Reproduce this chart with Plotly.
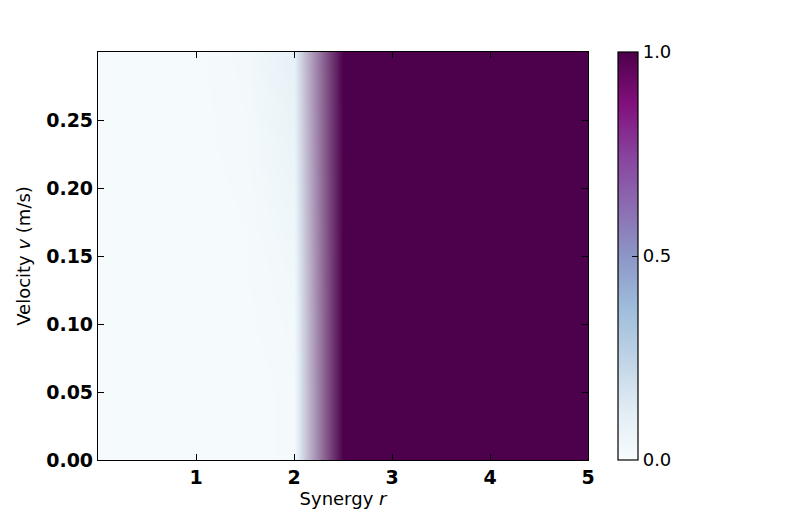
import plotly.graph_objects as go

# Grid of synergy values (x) and velocities (y)
synergy = [0.0, 0.5, 1.0, 1.5, 1.75, 2.0, 2.5, 3.0, 4.0, 5.0]
velocity = [0.0, 0.05, 0.10, 0.15, 0.20, 0.25, 0.30]

# Fraction (0..1) for each velocity row, one value per synergy column
cooperation = [
    [0.008, 0.008, 0.008, 0.008, 0.01, 0.015, 1.0, 1.0, 1.0, 1.0],  # v=0.00
    [0.008, 0.008, 0.008, 0.008, 0.01, 0.015, 1.0, 1.0, 1.0, 1.0],  # v=0.05
    [0.008, 0.008, 0.008, 0.009, 0.013, 0.02, 1.0, 1.0, 1.0, 1.0],  # v=0.10
    [0.008, 0.008, 0.008, 0.01, 0.018, 0.03, 1.0, 1.0, 1.0, 1.0],   # v=0.15
    [0.008, 0.008, 0.008, 0.012, 0.028, 0.045, 1.0, 1.0, 1.0, 1.0], # v=0.20
    [0.008, 0.008, 0.008, 0.016, 0.038, 0.06, 1.0, 1.0, 1.0, 1.0],  # v=0.25
    [0.008, 0.008, 0.008, 0.02, 0.048, 0.075, 1.0, 1.0, 1.0, 1.0],  # v=0.30
]

x_ticks = [1, 2, 3, 4, 5]
y_ticks = [0.0, 0.05, 0.10, 0.15, 0.20, 0.25]
y_tick_labels = ["0.00", "0.05", "0.10", "0.15", "0.20", "0.25"]
cbar_ticks = [0.0, 0.5, 1.0]
cbar_tick_labels = ["0.0", "0.5", "1.0"]

# Display colorscale: BuPu low end, then RGB blend to dark purple
display_scale = [
    [0.0, "#f7fcfd"],
    [0.1, "#e0ecf4"],
    [1.0, "#4d004b"],
]

fig = go.Figure()
fig.add_trace(go.Heatmap(
    x=synergy, y=velocity, z=cooperation,
    colorscale=display_scale, zmin=0, zmax=1,
    zsmooth="best", showscale=False, hoverinfo="skip",
))

# colorbar (BuPu)
fig.add_trace(go.Scatter(
    x=[None], y=[None], mode="markers", showlegend=False, hoverinfo="skip",
    marker=dict(
        color=[0.0], cmin=0, cmax=1, colorscale="BuPu", showscale=True,
        colorbar=dict(
            x=1.061, xanchor="left", xpad=0, y=0.5, yanchor="middle",
            len=1.0, lenmode="fraction", ypad=0,
            thickness=20, thicknessmode="pixels",
            outlinecolor="black", outlinewidth=1.2,
            tickvals=cbar_ticks, ticktext=cbar_tick_labels,
            ticks="inside", ticklen=6, tickcolor="black",
            tickfont=dict(family="DejaVu Sans", size=18, color="black"),
        ),
    ),
))

tick_font = dict(family="DejaVu Sans", size=19, color="black", weight="bold")
title_font = dict(family="DejaVu Sans", size=18, color="black")

fig.update_layout(
    width=789, height=526,
    margin=dict(l=90, r=209, t=44, b=74),
    paper_bgcolor="white", plot_bgcolor="white",
    showlegend=False,
    xaxis=dict(
        range=[0, 5], tickvals=x_ticks, ticktext=[str(t) for t in x_ticks],
        ticks="inside", ticklen=6, tickcolor="black", tickwidth=1,
        showline=True, linecolor="black", linewidth=1.2, mirror="ticks",
        showgrid=False, zeroline=False, tickfont=tick_font,
        title=dict(text="Synergy <i>r</i>", font=title_font, standoff=5),
    ),
    yaxis=dict(
        range=[0, 0.3], tickvals=y_ticks, ticktext=y_tick_labels,
        ticks="inside", ticklen=6, tickcolor="black", tickwidth=1,
        showline=True, linecolor="black", linewidth=1.2, mirror="ticks",
        showgrid=False, zeroline=False, tickfont=tick_font,
        title=dict(text="Velocity <i>v</i> (m/s)", font=title_font, standoff=10),
    ),
)

fig.write_html("out.html")
